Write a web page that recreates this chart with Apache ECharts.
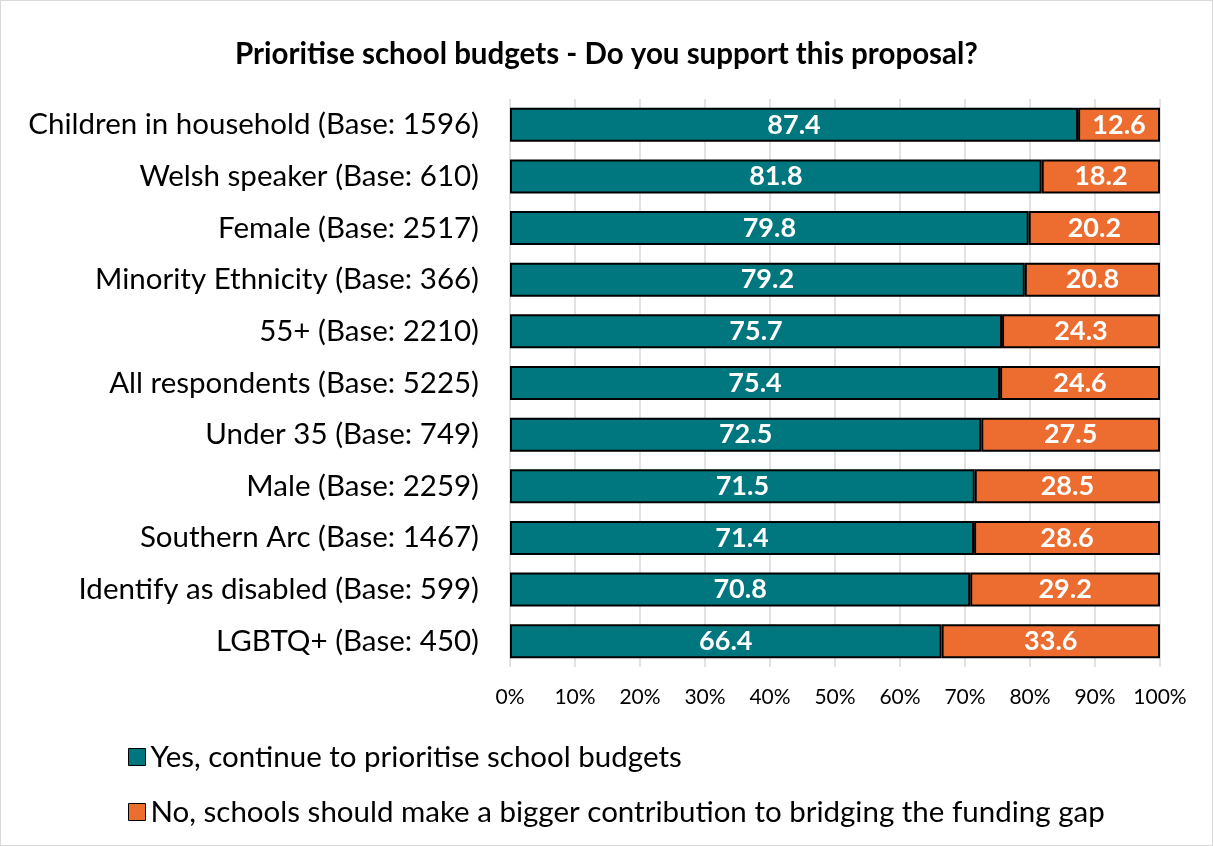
<!DOCTYPE html>
<html><head><meta charset="utf-8">
<script src="https://cdn.jsdelivr.net/npm/echarts@6/dist/echarts.min.js"></script>
<style>html,body{margin:0;padding:0;background:#fff}#c{width:1211px;height:844px;border:1px solid #d9d9d9}</style>
</head><body><div id="c"></div>
<script>
var categories = ["Children in household (Base: 1596)","Welsh speaker (Base: 610)","Female (Base: 2517)","Minority Ethnicity (Base: 366)","55+ (Base: 2210)","All respondents (Base: 5225)","Under 35 (Base: 749)","Male (Base: 2259)","Southern Arc (Base: 1467)","Identify as disabled (Base: 599)","LGBTQ+ (Base: 450)"];
var yesValues = [87.4,81.8,79.8,79.2,75.7,75.4,72.5,71.5,71.4,70.8,66.4];
var noValues = [12.6,18.2,20.2,20.8,24.3,24.6,27.5,28.5,28.6,29.2,33.6];
var seriesNames = ["Yes, continue to prioritise school budgets","No, schools should make a bigger contribution to bridging the funding gap"];
var titleText = "Prioritise school budgets - Do you support this proposal?";
var FONT = "Lato, 'Open Sans', sans-serif";
var chart = echarts.init(document.getElementById('c'));
function mk(name, data, color){
  return {name:name,type:'bar',stack:'a',data:data,barWidth:34,
    itemStyle:{color:color,borderColor:'#000',borderWidth:2},
    label:{show:true,position:'inside',color:'#fff',fontWeight:'bold',fontSize:27,fontFamily:FONT,formatter:function(p){return p.value.toFixed(1);}}};
}
chart.setOption({
  animation:false,
  title:{text:titleText,left:'center',top:33,textStyle:{fontFamily:FONT,fontSize:29.5,fontWeight:'bold',color:'#000'}},
  grid:{left:509,right:52,top:98,bottom:178,containLabel:false},
  xAxis:{type:'value',min:0,max:100,interval:10,
    axisLabel:{formatter:'{value}%',fontFamily:FONT,fontSize:21,color:'#000',margin:20},
    splitLine:{show:true,lineStyle:{color:'#d9d9d9',width:1.5}},axisLine:{show:false},axisTick:{show:false}},
  yAxis:{type:'category',data:categories,inverse:true,
    axisLabel:{fontFamily:FONT,fontSize:29.5,color:'#000',margin:31},
    axisLine:{show:false},axisTick:{show:false}},
  legend:{orient:'vertical',left:122,top:736,itemGap:25,itemWidth:17,itemHeight:17,icon:'rect',
    textStyle:{fontFamily:FONT,fontSize:29.5,color:'#000'},
    itemStyle:{borderColor:'#000',borderWidth:1}},
  series:[mk(seriesNames[0],yesValues,'#00777e'),mk(seriesNames[1],noValues,'#ec6d2f')]
});
</script></body></html>
